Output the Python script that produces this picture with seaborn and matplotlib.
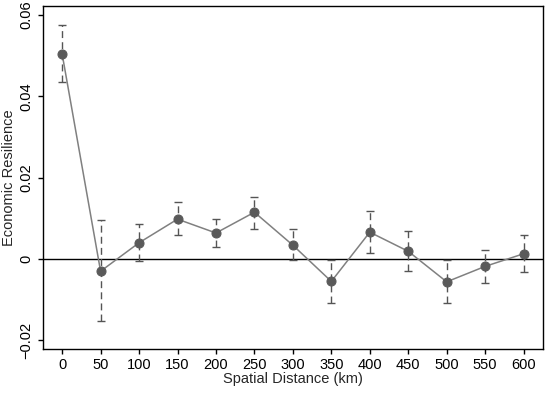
import matplotlib
matplotlib.use("Agg")
import matplotlib.pyplot as plt
import seaborn as sns
import numpy as np
import pandas as pd

# distance bands (km) and estimated coefficients with CI bounds
distance = [0, 50, 100, 150, 200, 250, 300, 350, 400, 450, 500, 550, 600]
coef = [0.0504, -0.0030, 0.0040, 0.0098, 0.0064, 0.0115, 0.0034,
        -0.0055, 0.0066, 0.0019, -0.0056, -0.0018, 0.0013]
ci_high = [0.0576, 0.0095, 0.0085, 0.0139, 0.0098, 0.0153, 0.0074,
           -0.0002, 0.0119, 0.0069, -0.0002, 0.0022, 0.0060]
ci_low = [0.0434, -0.0153, -0.0005, 0.0059, 0.0030, 0.0075, -0.0002,
          -0.0109, 0.0014, -0.0030, -0.0109, -0.0058, -0.0033]

df = pd.DataFrame({"dist": distance, "coef": coef, "hi": ci_high, "lo": ci_low})

sns.set_style("ticks")
plt.rcParams['font.family'] = ['Liberation Sans', 'DejaVu Sans']

fig = plt.figure(figsize=(5.5, 3.93), dpi=100)
ax = fig.add_axes([0.078, 0.112, 0.909, 0.873])

# dashed confidence intervals
err = ax.errorbar(df["dist"], df["coef"],
                  yerr=[df["coef"] - df["lo"], df["hi"] - df["coef"]],
                  fmt="none", ecolor="#555555", elinewidth=1.0,
                  capsize=3, capthick=1.0, zorder=2)
for lc in err[2]:
    lc.set_linestyle((0, (5, 3)))

ax.axhline(0, color="black", linewidth=1.0, zorder=1)

sns.lineplot(data=df, x="dist", y="coef", ax=ax, color="#808080",
             linewidth=1.1, marker="o", markersize=6.5,
             markerfacecolor="#5a5a5a", markeredgecolor="#5a5a5a", zorder=3)

ax.set_xlim(-25, 625)
ax.set_ylim(-0.0221, 0.0622)
ax.set_xticks(distance)
ax.set_yticks([-0.02, 0, 0.02, 0.04, 0.06])
ax.set_yticklabels(["\u22120.02", "0", "0.02", "0.04", "0.06"],
                   rotation=90, va="center")
ax.tick_params(axis="both", labelsize=10.5, length=3.6, width=1,
               colors="black", pad=3.2)
ax.set_xlabel("Spatial Distance (km)", fontsize=10.5, labelpad=0)
ax.set_ylabel("Economic Resilience", fontsize=10.5, labelpad=2.5)
for s in ax.spines.values():
    s.set_linewidth(1.0)
    s.set_color("black")

fig.savefig("out.png", dpi=100)
